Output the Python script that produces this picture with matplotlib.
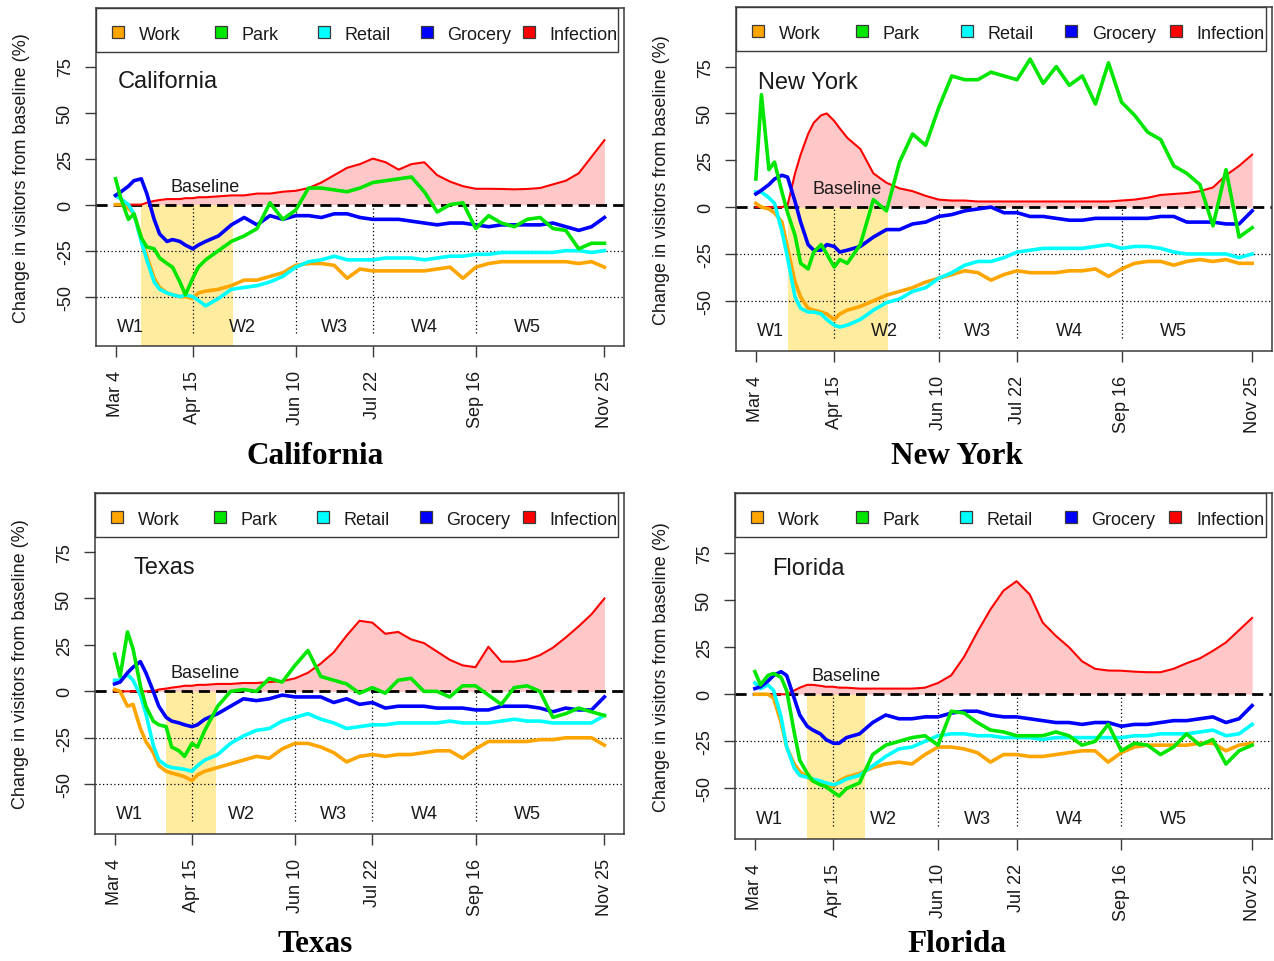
import numpy as np
import matplotlib.pyplot as plt
from matplotlib.patches import Rectangle

plt.rcParams['font.family'] = ['Liberation Sans', 'DejaVu Sans']

# ---------- data (x = days since Mar 4, 2020) ----------
days = [0, 3, 7, 10, 14, 17, 21, 24, 28, 31, 35, 38, 42, 45, 49] + list(range(56, 267, 7))

tick_days = [0, 42, 98, 140, 196, 266]
tick_labels = ['Mar 4', 'Apr 15', 'Jun 10', 'Jul 22', 'Sep 16', 'Nov 25']
window_days = [42, 98, 140, 196]
window_labels = ['W1', 'W2', 'W3', 'W4', 'W5']
window_label_days = [8, 69, 119, 168, 224]
yticks = [-50, -25, 0, 25, 50, 75]

series_names = ['Work', 'Park', 'Retail', 'Grocery', 'Infection']
series_colors = ['#FFA500', '#00E600', '#00FFFF', '#0000FF', '#FF0000']

# California
ca_work = [0, 0, -2, -5, -18, -28, -40, -45, -48, -49, -50, -50, -51, -48, -47,
           -46, -44, -41, -41, -39, -37, -33, -32, -32, -33, -40, -35, -36, -36, -36, -36,
           -36, -35, -34, -40, -34, -32, -31, -31, -31, -31, -31, -31, -32, -31, -34]
ca_park = [14, 3, -8, -5, -18, -23, -24, -29, -32, -34, -42, -49, -40, -34, -30,
           -25, -20, -17, -13, 1, -8, -3, 9, 9, 8, 7, 9, 12, 13, 14, 15,
           7, -4, 0, 1, -13, -6, -10, -12, -8, -7, -13, -14, -24, -21, -21]
ca_retail = [5, 3, 0, -5, -20, -30, -42, -46, -48, -49, -50, -49, -50, -52, -55,
             -51, -46, -45, -44, -42, -39, -34, -31, -30, -28, -30, -30, -30, -29, -29, -29,
             -30, -29, -28, -28, -27, -27, -26, -26, -26, -26, -26, -25, -25, -26, -25]
ca_grocery = [5, 7, 10, 13, 14, 6, -8, -16, -20, -19, -20, -22, -24, -22, -20,
              -17, -11, -7, -11, -6, -8, -6, -6, -7, -5, -5, -7, -8, -8, -8, -9,
              -10, -11, -10, -10, -11, -12, -11, -11, -11, -11, -10, -12, -14, -12, -7]
ca_infection = [0, 0, 0, 0, 0, 1, 2, 2.5, 3, 3, 3, 3.5, 3.5, 4, 4,
                4.5, 5, 5, 6, 6, 7, 7.5, 9, 12, 16, 20, 22, 25, 23, 19, 22,
                23, 16, 12.5, 10, 8.6, 8.6, 8.5, 8.3, 8.5, 9, 11, 13, 17, 26, 35]

# New York
ny_work = [2, 0, -1, -3, -8, -22, -40, -48, -54, -55, -56, -57, -60, -57, -55,
           -53, -50, -47, -45, -43, -40, -38, -36, -34, -35, -39, -36, -34, -35, -35, -35,
           -34, -34, -33, -37, -33, -30, -29, -29, -31, -29, -28, -29, -28, -30, -30]
ny_park = [15, 60, 20, 24, 8, -3, -15, -30, -33, -24, -20, -25, -32, -28, -30,
           -20, 4, -2, 24, 39, 33, 53, 70, 68, 68, 72, 70, 68, 79, 66, 75,
           65, 70, 55, 77, 56, 49, 40, 36, 22, 18, 12, -10, 20, -16, -11]
ny_retail = [8, 8, 5, 2, -13, -27, -48, -54, -56, -56, -57, -60, -63, -64, -63,
             -60, -55, -51, -49, -45, -43, -38, -35, -31, -29, -29, -27, -24, -23, -22, -22,
             -22, -22, -21, -20, -22, -21, -21, -22, -24, -25, -25, -25, -25, -27, -25]
ny_grocery = [7, 9, 12, 15, 17, 16, 3, -8, -20, -23, -23, -20, -21, -24, -23,
              -21, -16, -12, -12, -9, -8, -5, -4, -2, -1, 0, -3, -3, -5, -5, -6,
              -7, -7, -6, -6, -6, -6, -6, -5, -5, -8, -8, -8, -9, -9, -2]
ny_infection = [0, 0, 0, 0, 0, 1, 18, 28, 39, 45, 49, 50, 46, 42, 37,
                31, 18, 13, 10, 8.5, 6, 4, 3.5, 3.5, 3, 3, 3, 3, 3, 3, 3,
                3, 3, 3, 3, 3.5, 4, 5, 6.5, 7, 7.5, 8.5, 10.5, 17, 22, 28]

# Texas
tx_work = [1, 0, -8, -7, -20, -27, -33, -40, -43, -44, -45, -46, -48, -45, -43,
           -41, -39, -37, -35, -36, -31, -28, -28, -30, -33, -38, -35, -34, -35, -34, -34,
           -33, -32, -32, -36, -31, -27, -27, -27, -27, -26, -26, -25, -25, -25, -29]
tx_park = [20, 8, 32, 23, 3, -8, -16, -18, -19, -30, -32, -35, -28, -30, -21,
           -8, 0, 1, 0, 7, 5, 14, 22, 8, 6, 4, -1, 2, -1, 6, 7,
           0, 0, -3, 3, 3, -2, -7, 2, 3, 0, -14, -12, -9, -11, -13]
tx_retail = [6, 6, 9, 6, -2, -12, -29, -37, -40, -41, -41.5, -42, -43, -40, -37,
             -34, -28, -24, -21, -20, -16, -14, -12, -15, -17, -20, -19, -18, -18, -17, -17,
             -17, -17, -16, -17, -17, -17, -16, -15, -16, -16, -17, -17, -17, -17, -13]
tx_grocery = [4, 5, 10, 13, 16, 10, 0, -8, -14, -16, -17, -18, -19, -18, -15,
              -12, -8, -4, -5, -4, -2, -3, -3, -3, -6, -4, -7, -6, -9, -8, -8,
              -8, -9, -9, -9, -10, -10, -8, -8, -8, -9, -11, -9, -10, -10, -3]
tx_infection = [0, 0, 0, 0, 0, 0, 0, 1, 1.5, 2, 2.5, 3, 3, 3.5, 3.5,
                4, 4, 4.5, 4.5, 5, 5.5, 7, 10, 15, 21, 30, 38, 37, 31, 32, 28,
                26, 21.5, 17, 14, 13, 24, 16, 16, 17, 19.5, 23.5, 29, 35, 41.5, 50]

# Florida
fl_work = [0, 0, 0, -2, -15, -28, -37, -41, -44, -46, -47, -48, -49, -46, -44,
           -42, -39, -37, -36, -37, -32, -28, -28, -29, -31, -36, -32, -32, -33, -33, -32,
           -31, -30, -30, -36, -31, -28, -27, -27, -27, -27, -26, -26, -30, -27, -26]
fl_park = [12, 5, 10, 11, 9, 2, -20, -35, -42, -46, -48, -49, -52, -54, -50,
           -47, -32, -27, -25, -23, -22, -27, -9, -10, -15, -19, -20, -22, -22, -22, -20,
           -22, -27, -25, -16, -30, -26, -27, -32, -28, -21, -27, -24, -37, -30, -27]
fl_retail = [6, 3, 5, 2, -12, -28, -39, -43, -44, -45, -46, -47, -48, -47, -45,
             -43, -38, -33, -29, -28, -25, -22, -21, -21, -22, -22, -23, -23, -23, -24, -23,
             -23, -23, -23, -23, -23, -22, -22, -21, -21, -21, -20, -19, -22, -21, -16]
fl_grocery = [3, 4, 7, 10, 12, 10, -2, -11, -17, -19, -21, -24, -26, -26, -23,
              -21, -15, -11, -13, -13, -12, -12, -10, -9, -9, -11, -12, -12, -13, -14, -15,
              -15, -16, -15, -15, -17, -16, -16, -15, -14, -14, -13, -12, -15, -13, -6]
fl_infection = [0, 0, 0, 0, 0, 0, 2, 3.5, 5, 5, 4.5, 4, 4, 3.5, 3.5,
                3, 3, 3, 3, 3, 3.5, 6, 10, 20, 33, 45, 55, 60, 53, 38, 31,
                25, 17.5, 13.5, 12.6, 12.5, 12, 11.7, 11.7, 13.5, 16.5, 19, 23, 27.5, 34, 40.5]

# stay-at-home windows (days since Mar 4)
ca_shade = (14, 64)
ny_shade = (17, 71)
tx_shade = (28, 55)
fl_shade = (28, 59)

# ---------- figure ----------
W, H = 1274, 962
fig = plt.figure(figsize=(W / 100, H / 100), dpi=100)

XLIM = (-10.64, 276.64)
YLIM = (-76.8, 106.8)
TXT = '#1a1a1a'
EDGE = '#3a3a3a'

panels = [
    # name, box (l, t, r, b) px, series, shade, name x-day, title centre px
    ('California', (96, 9, 624, 347), [ca_work, ca_park, ca_retail, ca_grocery, ca_infection],
     ca_shade, 1, (315, 457)),
    ('New York', (736, 8, 1272, 352), [ny_work, ny_park, ny_retail, ny_grocery, ny_infection],
     ny_shade, 1, (957, 457)),
    ('Texas', (95, 494, 624, 835), [tx_work, tx_park, tx_retail, tx_grocery, tx_infection],
     tx_shade, 10, (315, 945)),
    ('Florida', (735, 494, 1272, 840), [fl_work, fl_park, fl_retail, fl_grocery, fl_infection],
     fl_shade, 9, (957, 945)),
]

for name, (l, t, r, b), series, shade, name_day, (tx, ty) in panels:
    w, h = r - l, b - t
    ax = fig.add_axes([l / W, 1 - b / H, w / W, h / H])
    ax.set_xlim(*XLIM)
    ax.set_ylim(*YLIM)

    # lockdown window + infection area
    ax.fill_between(list(shade), YLIM[0], 0, color='#FFEC9E', lw=0, zorder=1)
    inf = series[4]
    ax.fill_between(days, 0, inf, color='#FFC8C8', lw=0, zorder=1)

    # reference lines
    ax.axhline(0, color='black', lw=2, ls=(0, (4, 2.2)), zorder=2)
    for yv in (-25, -50):
        ax.axhline(yv, color='black', lw=0.9, ls=(0, (1, 2)), zorder=2)
    ax.vlines(window_days, -70, 0, color='black', lw=0.9, ls=(0, (1, 2)), zorder=2)

    ax.plot(days, inf, color=series_colors[4], lw=1.5, zorder=3)
    for idx in (0, 2, 3, 1):
        ax.plot(days, series[idx], color=series_colors[idx], lw=2.6,
                solid_joinstyle='round', zorder=4)

    # annotations
    ax.text(name_day, 67, name, fontsize=17, ha='left', va='center', color=TXT, zorder=5)
    ax.text(49, 10, 'Baseline', fontsize=13, ha='center', va='center', color=TXT, zorder=5)
    for d, lbl in zip(window_label_days, window_labels):
        ax.text(d, -66, lbl, fontsize=13, ha='center', va='center', color=TXT, zorder=5)

    # legend box across the top
    leg_w = w - 6
    ax.add_patch(Rectangle((0, 1 - 44 / h), leg_w / w, 44 / h, transform=ax.transAxes,
                           facecolor='white', edgecolor=EDGE, lw=1, zorder=10))
    step = leg_w * 0.197
    for i, (sn, col) in enumerate(zip(series_names, series_colors)):
        cx = 22 + i * step
        ax.add_patch(Rectangle(((cx - 6) / w, 1 - 30 / h), 12 / w, 12 / h,
                               transform=ax.transAxes, facecolor=col, edgecolor=EDGE,
                               lw=0.9, zorder=11))
        ax.text((cx + 20.5) / w, 1 - 31 / h, sn, transform=ax.transAxes, fontsize=13,
                ha='left', va='baseline', color=TXT, zorder=11)

    # axes styling
    for sp in ax.spines.values():
        sp.set_color(EDGE)
        sp.set_linewidth(1.1)
    ax.set_xticks(tick_days)
    ax.set_xticklabels(tick_labels, rotation=90)
    ax.set_yticks(yticks)
    ax.set_yticklabels([str(v) for v in yticks], rotation=90, va='center')
    ax.tick_params(axis='both', length=8, width=1, color=EDGE, labelsize=13,
                   labelcolor=TXT)
    ax.tick_params(axis='x', pad=9)
    ax.tick_params(axis='y', pad=8)

    fig.text((l - 74) / W, 1 - (t + b) / 2 / H, 'Change in visitors from baseline (%)',
             rotation=90, ha='center', va='center', fontsize=13, color=TXT)
    fig.text(tx / W, 1 - ty / H, name, ha='center', va='center', fontsize=22.5,
             family='Liberation Serif', weight='bold', color='black')

fig.savefig('out.png', dpi=100)
